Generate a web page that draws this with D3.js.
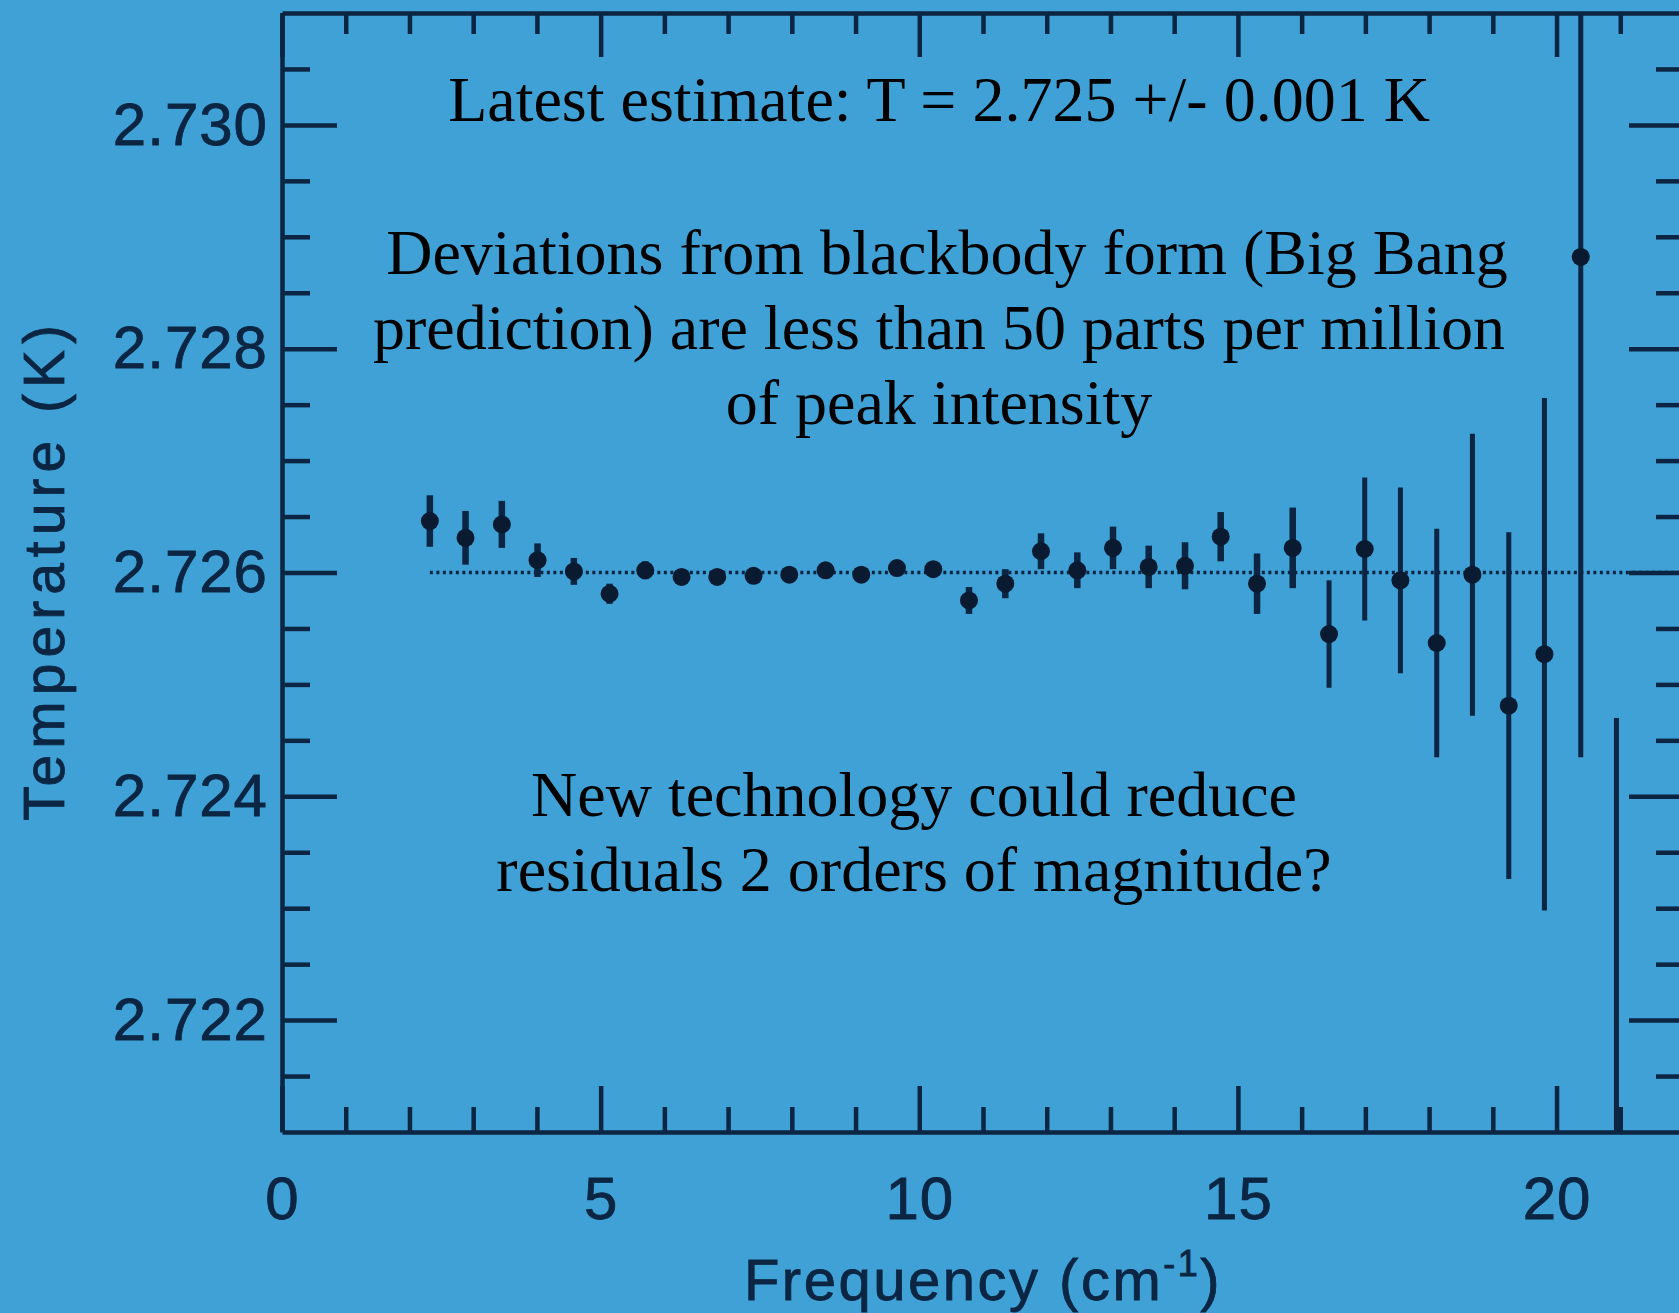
<!DOCTYPE html>
<html>
<head>
<meta charset="utf-8">
<script src="https://cdn.jsdelivr.net/npm/d3@7"></script>
<style>
  html, body { margin: 0; padding: 0; background: #3fa1d6; overflow: hidden; }
  svg { display: block; }
</style>
</head>
<body>
<svg id="chart" width="1679" height="1313"></svg>
<script>
// ---- data ----
const freq = [2.32, 2.88, 3.45, 4.01, 4.58, 5.14, 5.70, 6.27, 6.83, 7.40,
              7.96, 8.53, 9.09, 9.65, 10.22, 10.78, 11.35, 11.91, 12.48, 13.04,
              13.60, 14.17, 14.73, 15.30, 15.86, 16.43, 16.99, 17.55, 18.12, 18.68,
              19.25, 19.81, 20.38, 20.94];
const temp = [2.72646, 2.72631, 2.72643, 2.72611, 2.72601, 2.72581, 2.72602, 2.72596, 2.72596, 2.72597,
              2.72598, 2.72602, 2.72598, 2.72604, 2.72603, 2.72575, 2.72590, 2.72619, 2.72602, 2.72622,
              2.72605, 2.72606, 2.72632, 2.72590, 2.72622, 2.72545, 2.72621, 2.72593, 2.72537, 2.72598,
              2.72481, 2.72527, 2.72882, 2.72030];
const errs = [0.00023, 0.00024, 0.00021, 0.00015, 0.00012, 0.00009, 0.00008, 0.00007, 0.00007, 0.00007,
              0.00007, 0.00007, 0.00007, 0.00007, 0.00007, 0.00012, 0.00013, 0.00016, 0.00016, 0.00019,
              0.00019, 0.00021, 0.00022, 0.00027, 0.00036, 0.00048, 0.00064, 0.00083, 0.00102, 0.00126,
              0.00155, 0.00229, 0.00447, 0.00440];
const blackbodyT = 2.726;
const xMajorTicks = [0, 5, 10, 15, 20];
const xLabels = ["0", "5", "10", "15", "20"];
const yMajorTicks = [2.722, 2.724, 2.726, 2.728, 2.730];
const yLabels = ["2.722", "2.724", "2.726", "2.728", "2.730"];
const notesTop = ["Latest estimate: T = 2.725 +/- 0.001 K"];
const notesMid = [" Deviations from blackbody form (Big Bang",
                  "prediction) are less than 50 parts per million",
                  "of peak intensity"];
const notesLow = ["New technology could reduce",
                  "residuals 2 orders of magnitude?"];

// ---- layout ----
const ink = "#0b2542";
const svg = d3.select("#chart");
svg.append("rect").attr("width", 1679).attr("height", 1313).attr("fill", "#3fa1d6");

const x = d3.scaleLinear().domain([0, 22]).range([282, 1684]);
const y = d3.scaleLinear().domain([2.721, 2.731]).range([1132, 13]);

const xMinor = d3.range(0, 23, 1).filter(v => !xMajorTicks.includes(v));
const yMinor = d3.range(0, 19).map(i => +(2.7215 + i * 0.0005).toFixed(4))
                 .filter(v => !yMajorTicks.some(m => Math.abs(m - v) < 1e-7));

function styleAxis(g, width) {
  g.selectAll("path.domain").attr("stroke", ink).attr("stroke-width", width);
  g.selectAll(".tick line").attr("stroke", ink).attr("stroke-width", 4.5);
  g.selectAll(".tick text").attr("fill", ink)
    .attr("font-family", "'Liberation Sans', Arial, sans-serif")
    .attr("font-size", 60).attr("letter-spacing", 1)
    .attr("stroke", ink).attr("stroke-width", 0.8);
}

// bottom axis
const gB = svg.append("g").attr("transform", `translate(0,${y.range()[0]})`);
gB.call(d3.axisBottom(x).tickValues(xMajorTicks).tickFormat((d, i) => xLabels[i])
  .tickSize(-46).tickSizeOuter(0).tickPadding(44));
styleAxis(gB, 4.5);
const gBm = svg.append("g").attr("transform", `translate(0,${y.range()[0]})`);
gBm.call(d3.axisBottom(x).tickValues(xMinor).tickFormat("").tickSize(-25).tickSizeOuter(0));
gBm.select("path.domain").remove();
styleAxis(gBm, 0);

// top axis
const gT = svg.append("g").attr("transform", `translate(0,${y.range()[1]})`);
gT.call(d3.axisTop(x).tickValues(xMajorTicks).tickFormat("").tickSize(-44).tickSizeOuter(0));
styleAxis(gT, 4.5);
const gTm = svg.append("g").attr("transform", `translate(0,${y.range()[1]})`);
gTm.call(d3.axisTop(x).tickValues(xMinor).tickFormat("").tickSize(-21).tickSizeOuter(0));
gTm.select("path.domain").remove();
styleAxis(gTm, 0);

// left axis
const gL = svg.append("g").attr("transform", `translate(${x(0)},0)`);
gL.call(d3.axisLeft(y).tickValues(yMajorTicks).tickFormat((d, i) => yLabels[i])
  .tickSize(-55).tickSizeOuter(0).tickPadding(14));
styleAxis(gL, 4.5);
const gLm = svg.append("g").attr("transform", `translate(${x(0)},0)`);
gLm.call(d3.axisLeft(y).tickValues(yMinor).tickFormat("").tickSize(-28).tickSizeOuter(0));
gLm.select("path.domain").remove();
styleAxis(gLm, 0);

// right axis (sits just past the picture edge)
const gR = svg.append("g").attr("transform", `translate(${x(22)},0)`);
gR.call(d3.axisRight(y).tickValues(yMajorTicks).tickFormat("").tickSize(-55).tickSizeOuter(0));
styleAxis(gR, 4.5);
const gRm = svg.append("g").attr("transform", `translate(${x(22)},0)`);
gRm.call(d3.axisRight(y).tickValues(yMinor).tickFormat("").tickSize(-28).tickSizeOuter(0));
gRm.select("path.domain").remove();
styleAxis(gRm, 0);

// clip for the plot region
svg.append("clipPath").attr("id", "plotclip").append("rect")
  .attr("x", x(0)).attr("y", y.range()[1])
  .attr("width", x(22) - x(0)).attr("height", y.range()[0] - y.range()[1]);

const plot = svg.append("g").attr("clip-path", "url(#plotclip)");

// dotted blackbody line
plot.append("line")
  .attr("x1", x(freq[0])).attr("x2", x(22))
  .attr("y1", y(blackbodyT)).attr("y2", y(blackbodyT))
  .attr("stroke", ink).attr("stroke-width", 3.5)
  .attr("stroke-dasharray", "3,3.5");

const pts = freq.map((f, i) => ({ f, t: temp[i], e: errs[i] }));

plot.selectAll("line.err").data(pts).enter().append("line")
  .attr("class", "err")
  .attr("x1", d => x(d.f)).attr("x2", d => x(d.f))
  .attr("y1", d => y(d.t - d.e)).attr("y2", d => y(d.t + d.e))
  .attr("stroke", ink).attr("stroke-width", (d, i) => i < 25 ? 6.5 : 5);

plot.selectAll("circle.pt").data(pts).enter().append("circle")
  .attr("class", "pt")
  .attr("cx", d => x(d.f)).attr("cy", d => y(d.t))
  .attr("r", 9).attr("fill", "#0a1a30");

// axis titles
svg.append("text")
  .attr("x", 983).attr("y", 1300)
  .attr("text-anchor", "middle")
  .attr("font-family", "'Liberation Sans', Arial, sans-serif")
  .attr("font-size", 58).attr("letter-spacing", 2.5)
  .attr("fill", ink).attr("stroke", ink).attr("stroke-width", 0.8)
  .call(t => {
    t.append("tspan").text("Frequency (cm");
    t.append("tspan").attr("font-size", 36).attr("dy", -24).text("-1");
    t.append("tspan").attr("dy", 24).text(")");
  });

svg.append("text")
  .attr("transform", "translate(64,570) rotate(-90)")
  .attr("text-anchor", "middle")
  .attr("font-family", "'Liberation Sans', Arial, sans-serif")
  .attr("font-size", 57).attr("letter-spacing", 6)
  .attr("fill", ink).attr("stroke", ink).attr("stroke-width", 0.8)
  .text("Temperature (K)");

// annotations
const serif = "'Liberation Serif', 'Times New Roman', serif";
function notes(lines, cx, y0, lh) {
  svg.append("g").selectAll("text").data(lines).enter().append("text")
    .attr("x", cx).attr("y", (d, i) => y0 + i * lh)
    .attr("text-anchor", "middle")
    .attr("font-family", serif).attr("font-size", 64)
    .attr("fill", "#000")
    .attr("xml:space", "preserve")
    .style("white-space", "pre")
    .text(d => d);
}
notes(notesTop, 939, 121, 75);
notes(notesMid, 939, 274, 75);
notes(notesLow, 914, 816, 75);
</script>
</body>
</html>
